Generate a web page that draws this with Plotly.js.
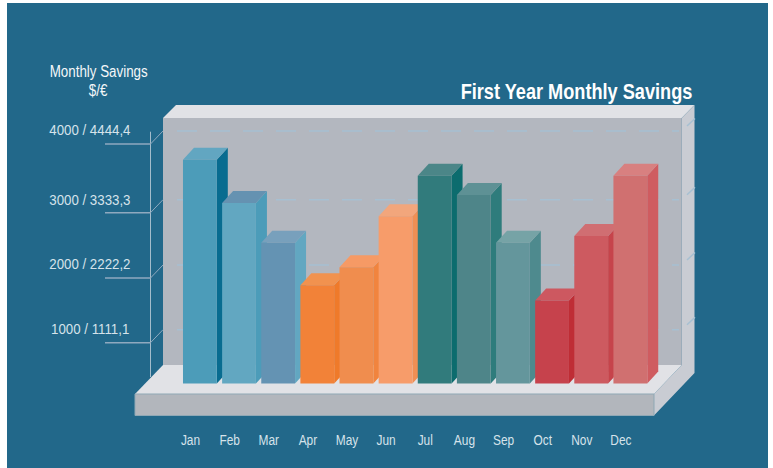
<!DOCTYPE html>
<html>
<head>
<meta charset="utf-8">
<script src="https://cdn.plot.ly/plotly-3.0.1.min.js"></script>
<style>html,body{margin:0;padding:0;background:#fff}</style>
</head>
<body>
<div id="chart" style="width:773px;height:468px"></div>
<script>
// ---- data ----
const months = ['Jan','Feb','Mar','Apr','May','Jun','Jul','Aug','Sep','Oct','Nov','Dec'];
const savings = [3770,3120,2520,1880,2150,2920,3530,3240,2520,1650,2620,3530];
const frontColors = ['#4c9cb9','#62a7c1','#6493b3','#f28238','#f08d4e','#f79c6a','#317b7c','#4e8589','#64969c','#c6424c','#cd5a60','#d07070'];
const topColors   = ['#62a6c1','#6592b1','#78a0bc','#f1924f','#f69a65','#f2a67c','#4b8688','#5e9195','#76a3a6','#cd5860','#d06e72','#d88080'];
const sideColors  = ['#086c90','#4c9cb9','#62a7c1','#ef7a2a','#f1843e','#ef8f54','#0c6c6e','#2e7c7c','#4e8a8e','#bf2d35','#c6444b','#cf5c60'];
const tickValues = [1000,2000,3000,4000];
const tickLabels = ['1000 / 1111,1','2000 / 2222,2','3000 / 3333,3','4000 / 4444,4'];
const barBase = 397;

// ---- scales ----
const W = 773, H = 468, plotH = 430;
const pxPerCat = 39.13, pxPerUnit = 0.0663;
const xTick0 = 190.5, yZero = 409.8;
const xRange = [-xTick0/pxPerCat, (W-xTick0)/pxPerCat];
const yRange = [(yZero-plotH)/pxPerUnit, yZero/pxPerUnit];
const barOffset = -0.192, barWidth = 0.864;
const depthX = 11/pxPerCat, depthY = 12/pxPerUnit;
const wallY = 13/pxPerUnit;
const tickNudgePx = [0.8,-0.8,-1.8,0.6];   // the printed rules are not quite evenly spaced
const labelShiftPx = [15.5,14.2,11.9,15.6];

// ---- helpers ----
const px = x => x/W, py = y => 1-y/plotH;
const poly = (pts, color, line) => ({type:'path', xref:'paper', yref:'paper', layer:'below',
  path:'M'+pts.map(p=>px(p[0])+' '+py(p[1])).join(' L')+' Z', fillcolor:color,
  line:line?{color:line,width:1}:{width:0}});
const dataPoly = (pts, color) => ({type:'path', xref:'x', yref:'y', layer:'below',
  path:'M'+pts.map(p=>p[0]+' '+p[1]).join(' L')+' Z', fillcolor:color, line:{width:0}});

const shapes = [
  {type:'rect', xref:'paper', yref:'paper', layer:'below', x0:px(7), x1:px(768), y0:py(H+2), y1:py(3), fillcolor:'#22688a', line:{width:0}},
  poly([[163,118],[681.7,118],[681.7,365],[163,365]], '#b3b7bf'),
  poly([[163,118],[176,105],[694.5,105],[681.7,118]], '#e1e2e6'),
  poly([[681.7,118],[694.5,105],[694.5,373],[654,415.5],[654,394],[681.7,365]], '#c9ccd3'),
  poly([[135,394],[163,365],[681.7,365],[654,394]], '#e1e2e6'),
  poly([[135,394],[654,394],[654,415.5],[135,415.5]], '#b2b6bc', '#8fa8b5')
];

// axis line
shapes.push({type:'line', xref:'paper', yref:'paper', layer:'below', x0:px(150.5), x1:px(150.5), y0:py(377), y1:py(131.7), line:{color:'#a3bccb',width:1}});
tickValues.forEach((tv,i) => {
  const v = tv + tickNudgePx[i]/pxPerUnit;
  shapes.push({type:'line', xref:'paper', yref:'y', layer:'below', x0:px(105), x1:px(150.5), y0:v, y1:v, line:{color:'#8fa9bf',width:1.5}});
  shapes.push({type:'line', xref:'paper', yref:'y', layer:'below', x0:px(150.5), x1:px(163), y0:v, y1:v+wallY, line:{color:'#8fa9bf',width:1}});
  shapes.push({type:'line', xref:'paper', yref:'y', layer:'below', x0:px(177), x1:px(679), y0:v+wallY, y1:v+wallY, line:{color:'#a7c0d2',width:1.5,dash:'20px,13px'}});
  shapes.push({type:'line', xref:'paper', yref:'y', layer:'below', x0:px(687), x1:px(695), y0:v+wallY+5/pxPerUnit, y1:v+wallY+12.5/pxPerUnit, line:{color:'#a7c0d2',width:1.5}});
});

// bar sides and tops, left to right, from the same values as the fronts
savings.forEach((v,i) => {
  const l = i+barOffset, r = l+barWidth;
  shapes.push(dataPoly([[r,barBase],[r+depthX,barBase+depthY],[r+depthX,v+depthY],[r,v]], sideColors[i]));
  shapes.push(dataPoly([[l,v],[l+depthX,v+depthY],[r+depthX,v+depthY],[r,v]], topColors[i]));
});

const fam = '"Liberation Sans",sans-serif';
const annotations = tickValues.map((v,i) => ({
  xref:'paper', yref:'y', x:px(89.5), y:v, yshift:labelShiftPx[i], xanchor:'center', yanchor:'middle',
  text:tickLabels[i], showarrow:false, font:{family:fam, size:15, color:'#d6e3ea'}
}));
annotations.push({xref:'paper', yref:'paper', x:px(98), y:py(71), xanchor:'center', yanchor:'middle',
  text:'Monthly Savings', showarrow:false, font:{family:fam, size:16, color:'#f4f7f9'}});
annotations.push({xref:'paper', yref:'paper', x:px(98), y:py(91), xanchor:'center', yanchor:'middle',
  text:'$/€', showarrow:false, font:{family:fam, size:16, color:'#f4f7f9'}});

Plotly.newPlot('chart', [{
  type:'bar', x:months.map((m,i)=>i), y:savings.map(v=>v-barBase), base:barBase,
  width:barWidth, offset:barOffset,
  marker:{color:frontColors, line:{width:0}}, hoverinfo:'skip'
}], {
  width:W, height:H, autosize:false, showlegend:false,
  margin:{l:0,r:0,t:0,b:H-plotH,pad:0},
  paper_bgcolor:'#ffffff', plot_bgcolor:'rgba(0,0,0,0)',
  title:{text:'First Year Monthly Savings', x:576.5/W, xanchor:'center', xref:'paper', y:1-91/H, yanchor:'middle',
    font:{family:fam, size:22, color:'#ffffff', weight:'bold'}},
  xaxis:{range:xRange, tickmode:'array', tickvals:months.map((m,i)=>i), ticktext:months, ticks:'', showgrid:false, zeroline:false, showline:false,
    tickfont:{family:fam, size:14, color:'#d6e3ea'}},
  yaxis:{range:yRange, showticklabels:false, ticks:'', showgrid:false, zeroline:false, showline:false},
  shapes, annotations
}, {displayModeBar:false, staticPlot:true}).then(gd => {
  // the reference type is a condensed face: narrow the real text to its measured width
  const squeezeEl = (t, f) => {
    t.setAttribute('textLength', t.getComputedTextLength()*f);
    t.setAttribute('lengthAdjust','spacingAndGlyphs');
  };
  gd.querySelectorAll('.annotation-text').forEach((t,i) => squeezeEl(t, i < tickValues.length ? 0.885 : 0.835));
  gd.querySelectorAll('.gtitle').forEach(t => squeezeEl(t, 0.825));
  gd.querySelectorAll('.xtick text').forEach(t => squeezeEl(t, 0.85));
});
</script>
</body>
</html>
